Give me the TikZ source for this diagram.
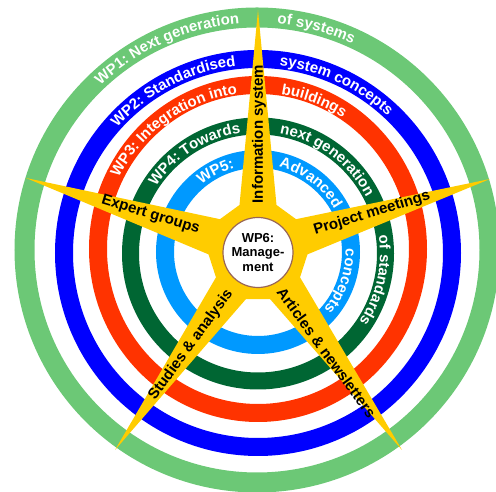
\documentclass[tikz,border=0pt]{standalone}
\usepackage{fontspec}
\setmainfont{Liberation Sans}
\usetikzlibrary{decorations.text,calc}
\definecolor{wpgreen}{RGB}{108,200,118}
\definecolor{wpblue}{RGB}{0,0,255}
\definecolor{wpred}{RGB}{255,51,0}
\definecolor{wpdark}{RGB}{0,102,51}
\definecolor{wplight}{RGB}{0,153,255}
\definecolor{staryellow}{RGB}{255,204,0}
\definecolor{circborder}{RGB}{153,102,85}
\newcommand\rtfont{\bfseries\fontsize{15}{18}\selectfont}
% #1 centre, #2 baseline radius, #3 start angle, #4 end angle, #5 text
\newcommand\ringtext[5]{%
  \path[decorate,decoration={text along path,text align=center,
    text color=white,text={|\rtfont|#5}}]
    ($(#1)+(#3:#2)$) arc[start angle=#3,end angle=#4,radius=#2];}
\begin{document}
\begin{tikzpicture}[x=1pt,y=1pt,
  raylabel/.style={font=\bfseries\fontsize{15}{18}\selectfont,text=black,inner sep=0pt},
  ring/.style={line width=#1}]
\useasboundingbox (0,0) rectangle (496,492);
% ring centres
\coordinate (cG) at (257,242);
\coordinate (cB) at (258,239);
\coordinate (cR) at (258,243);
\coordinate (cD) at (258,238.5);
\coordinate (cL) at (258,240);
\coordinate (C) at (258,241);
% rings
\draw[wpgreen,ring=20pt] (cG) circle[radius=232.5];
\draw[wpblue,ring=18pt] (cB) circle[radius=194];
\draw[wpred,ring=18pt] (cR) circle[x radius=160,y radius=164];
\draw[wpdark,ring=17pt] (cD) circle[radius=127.5];
\draw[wplight,ring=18pt] (cL) circle[radius=93];
% ring texts
\ringtext{cG}{227}{164}{64}{WP1: Next generation}
\ringtext{cG}{227}{125}{25}{of systems}
\ringtext{cB}{188.5}{167.5}{67.5}{WP2: Standardised}
\ringtext{cB}{188.5}{115}{15}{system concepts}
\ringtext{cR}{156.5}{175.2}{75.2}{WP3: Integration into}
\ringtext{cR}{156.5}{119.3}{19.3}{buildings}
\ringtext{cD}{122}{172.4}{72.4}{WP4: Towards}
\ringtext{cD}{122}{103.6}{3.6}{next generation}
\ringtext{cD}{122}{37.2}{-62.8}{of standards}
\ringtext{cL}{87.5}{167.8}{67.8}{WP5:}
\ringtext{cL}{87.5}{102.7}{2.7}{Advanced}
\ringtext{cL}{87.5}{30.5}{-69.5}{concepts}
% star
\coordinate (tT) at (258,482);
\coordinate (tL) at (26,314);
\coordinate (tR) at (490,313);
\coordinate (tBL) at (115,42);
\coordinate (tBR) at (402,42);
\fill[staryellow]
  ($(C)+(-3.9:49.6)$) -- (tR) -- ($(C)+(39.9:49.6)$) --
  ($(C)+(68.1:49.6)$) -- (tT) -- ($(C)+(111.9:49.6)$) --
  ($(C)+(140.1:49.6)$) -- (tL) -- ($(C)+(183.9:49.6)$) --
  ($(C)+(212.1:49.6)$) -- (tBL) -- ($(C)+(255.9:49.6)$) --
  ($(C)+(284.1:49.6)$) -- (tBR) -- ($(C)+(327.9:49.6)$) -- cycle;
% centre
\node[circle,fill=white,draw=circborder,line width=1.2pt,minimum size=70pt,
  inner sep=0pt,align=center,font=\bfseries\fontsize{13}{14.7}\selectfont]
  (wp6) at (258,239.5) {WP6:\\Manage-\\ment};
% ray labels
\node[raylabel,rotate=90] (info) at (259,358) {Information system};
\node[raylabel,rotate=17] (proj) at (372,278.5) {Project meetings};
\node[raylabel,rotate=-17] (expert) at (150.5,277) {Expert groups};
\node[raylabel,rotate=54] (studies) at (191,147) {Studies \& analysis};
\node[raylabel,rotate=-54] (articles) at (326.5,139.5) {Articles \& newsletters};
\end{tikzpicture}
\end{document}
